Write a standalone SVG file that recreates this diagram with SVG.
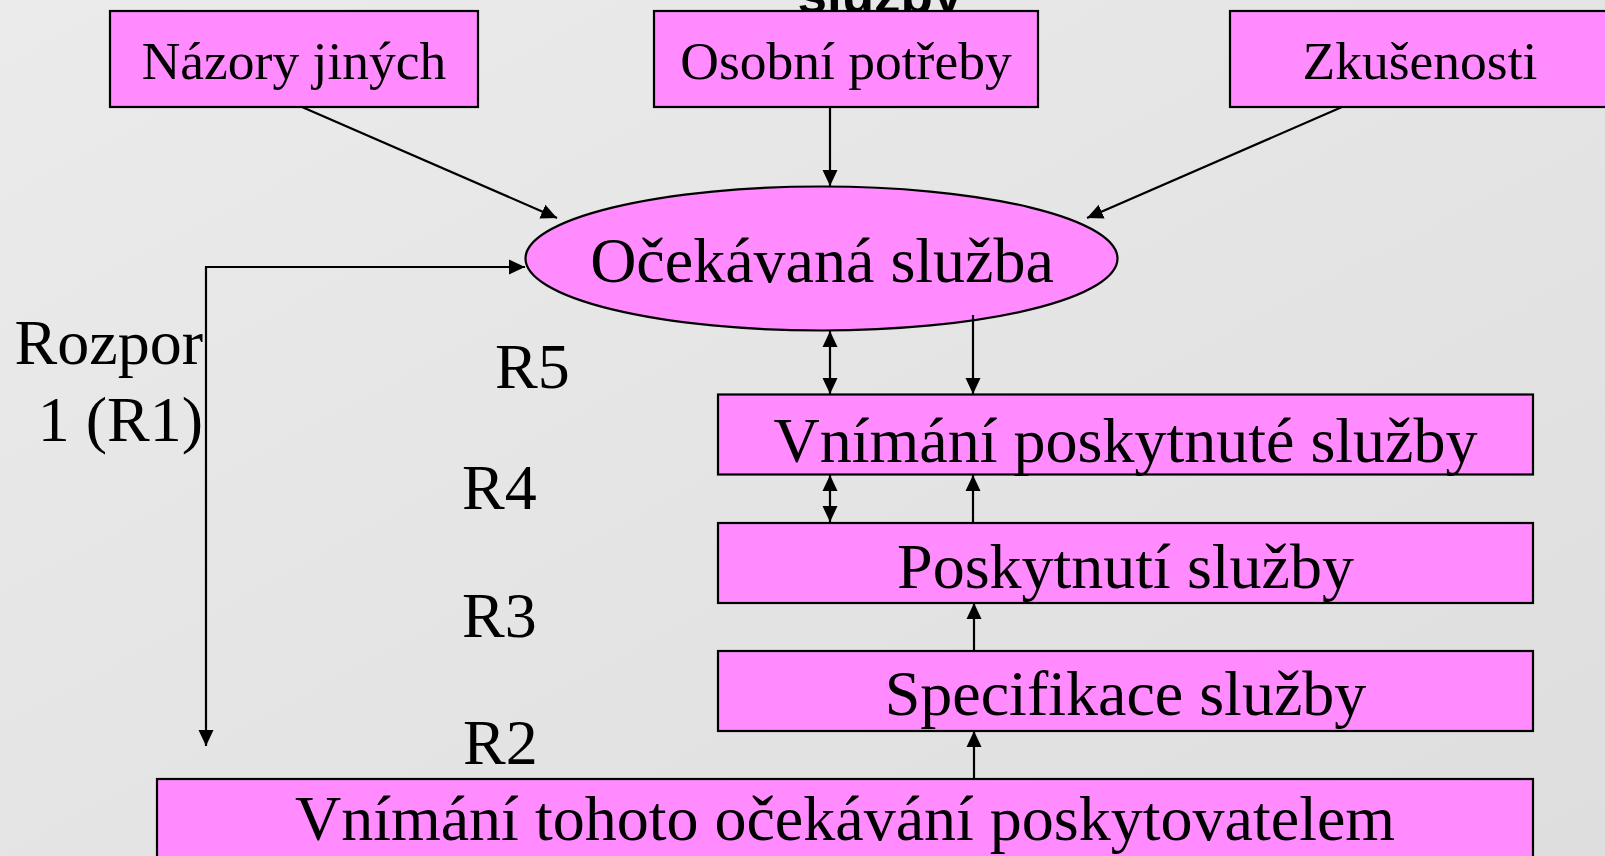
<svg xmlns="http://www.w3.org/2000/svg" width="1605" height="856" viewBox="0 0 1605 856">
<style>
.box{fill:#FF8BFF;stroke:#000;stroke-width:2.2}
.t{font-family:"Liberation Serif","Times New Roman",serif;fill:#000}
.s{font-size:53.5px;text-anchor:middle}
.l{font-size:64px;text-anchor:middle}
.lbl{font-size:64px}
.c{stroke:#000;stroke-width:2.2;fill:none}
</style>
<defs>
<linearGradient id="bg" x1="0" y1="0" x2="1" y2="1">
<stop offset="0" stop-color="#EBEBEB"/>
<stop offset="1" stop-color="#DEDEDE"/>
</linearGradient>
<marker id="ah" markerUnits="userSpaceOnUse" markerWidth="17" markerHeight="17" viewBox="0 0 17 17" refX="16" refY="8.5" orient="auto-start-reverse">
<path d="M0,1 L16,8.5 L0,16 Z" fill="#000"/>
</marker>
</defs>
<rect width="1605" height="856" fill="url(#bg)"/>
<text x="880" y="13" font-family="Liberation Sans, Arial, sans-serif" font-weight="bold" font-size="53" text-anchor="middle">služby</text>

<g id="n-nazory"><rect class="box" x="110" y="11" width="368" height="96"/><text class="t s" x="294" y="79">Názory jiných</text></g>
<g id="n-potreby"><rect class="box" x="654" y="11" width="384" height="96"/><text class="t s" x="846" y="79">Osobní potřeby</text></g>
<g id="n-zkusenosti"><rect class="box" x="1230" y="11" width="382" height="96"/><text class="t s" x="1420" y="79">Zkušenosti</text></g>
<g id="n-ocekavana"><ellipse class="box" cx="821.5" cy="258.5" rx="296" ry="72"/><text class="t l" x="822" y="282">Očekávaná služba</text></g>
<g id="n-vnimani"><rect class="box" x="718" y="394.5" width="815" height="80"/><text class="t l" x="1125.5" y="462">Vnímání poskytnuté služby</text></g>
<g id="n-poskytnuti"><rect class="box" x="718" y="523" width="815" height="80"/><text class="t l" x="1125.5" y="588">Poskytnutí služby</text></g>
<g id="n-specifikace"><rect class="box" x="718" y="651" width="815" height="80"/><text class="t l" x="1125.5" y="715">Specifikace služby</text></g>
<g id="n-poskytovatel"><rect class="box" x="157" y="779" width="1376" height="90"/><text class="t l" x="845" y="840">Vnímání tohoto očekávání poskytovatelem</text></g>

<g id="labels">
<text class="t lbl" x="203" y="364" text-anchor="end">Rozpor</text>
<text class="t lbl" x="203" y="441" text-anchor="end">1 (R1)</text>
<text class="t lbl" x="495" y="388">R5</text>
<text class="t lbl" x="462" y="509">R4</text>
<text class="t lbl" x="462" y="637">R3</text>
<text class="t lbl" x="463" y="764">R2</text>
</g>

<g id="connectors">
<line class="c" x1="302" y1="107" x2="557" y2="218" marker-end="url(#ah)"/>
<line class="c" x1="830" y1="107" x2="830" y2="186" marker-end="url(#ah)"/>
<line class="c" x1="1342" y1="107" x2="1087" y2="218" marker-end="url(#ah)"/>
<polyline class="c" points="206,746 206,267 525,267" marker-start="url(#ah)" marker-end="url(#ah)"/>
<line class="c" x1="830" y1="331" x2="830" y2="394" marker-start="url(#ah)" marker-end="url(#ah)"/>
<line class="c" x1="973" y1="315" x2="973" y2="394" marker-end="url(#ah)"/>
<line class="c" x1="830" y1="475" x2="830" y2="522" marker-start="url(#ah)" marker-end="url(#ah)"/>
<line class="c" x1="973" y1="522" x2="973" y2="475" marker-end="url(#ah)"/>
<line class="c" x1="974" y1="651" x2="974" y2="603" marker-end="url(#ah)"/>
<line class="c" x1="974" y1="779" x2="974" y2="731" marker-end="url(#ah)"/>
</g>
</svg>
